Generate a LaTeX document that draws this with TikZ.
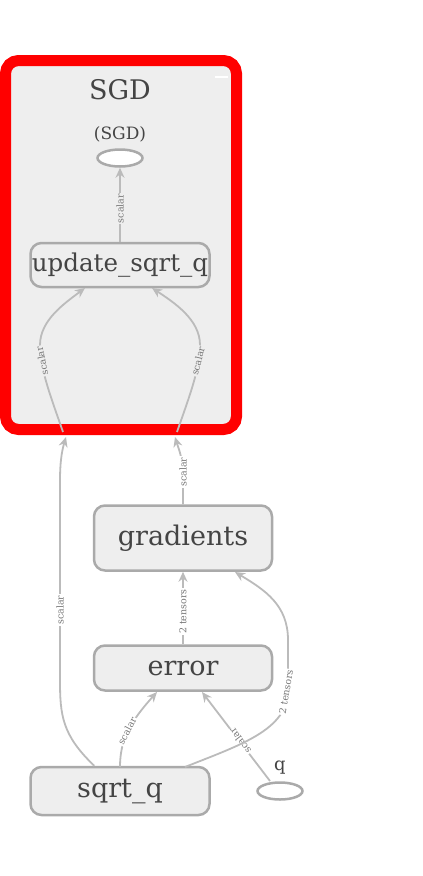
\documentclass[tikz,border=0pt]{standalone}
\usepackage{fontspec}
\setmainfont{DejaVu Serif}
\usetikzlibrary{arrows.meta,shapes.geometric}
\definecolor{boxfill}{HTML}{EEEEEE}
\definecolor{boxdraw}{HTML}{AAAAAA}
\definecolor{edgec}{HTML}{BBBBBB}
\definecolor{txt}{HTML}{444444}
\definecolor{lbl}{HTML}{777777}
\definecolor{clred}{HTML}{FF0000}
\tikzset{
  opbox/.style={draw=boxdraw, fill=boxfill, line width=2.5pt, rounded corners=11pt, text=txt, inner sep=0pt},
  leaf/.style={ellipse, draw=boxdraw, fill=white, line width=2.5pt, minimum width=45pt, minimum height=17pt, inner sep=0pt},
  flow/.style={draw=edgec, line width=1.8pt},
  flowarr/.style={flow, -{Stealth[length=10pt,width=9pt]}},
  elabel/.style={font=\fontsize{9.5}{9.5}\selectfont, text=lbl, inner sep=1pt},
  inlabel/.style={elabel, fill=boxfill},
  outlabel/.style={elabel, fill=white},
  bigtext/.style={font=\fontsize{27}{27}\selectfont},
}
\begin{document}
\begin{tikzpicture}[x=1pt,y=-1pt]
\useasboundingbox (0,0) rectangle (423,876);
% cluster
\node[draw=clred, fill=boxfill, line width=11pt, rounded corners=13pt, minimum width=231pt, minimum height=369pt, inner sep=0pt] (sgd) at (121,245) {};
\draw[white, line width=2.5pt] (215,77) -- (228,77);
\node[text=txt, bigtext] (sgdtitle) at (120,90) {SGD};
\node[text=txt, font=\fontsize{17}{17}\selectfont] (sgdlab) at (120,134) {(SGD)};
\node[leaf] (sgdout) at (120,158) {};
\node[opbox, minimum width=179pt, minimum height=44pt, font=\fontsize{24.5}{24.5}\selectfont] (upd) at (120,265) {update\_sqrt\_q};
% outside nodes
\node[opbox, minimum width=178pt, minimum height=65pt, bigtext] (grad) at (183,538) {gradients};
\node[opbox, minimum width=178pt, minimum height=45pt, bigtext] (err) at (183,668) {error};
\node[opbox, minimum width=179pt, minimum height=48pt, bigtext] (sq) at (120,791) {sqrt\_q};
\node[leaf] (q) at (280,791) {};
\node[text=txt, font=\fontsize{18}{18}\selectfont] (qlab) at (280,768) {q};
% boundary coordinates
\coordinate (lin) at (66,437);
\coordinate (lstart) at (63,432);
\coordinate (rin) at (175,437);
\coordinate (rstart) at (177,432);
% edges
\draw[flowarr] (upd.north) -- (sgdout.south) node[inlabel, pos=0.45, rotate=90] {scalar};
\draw[flowarr] (sq.north west) ++(65,0) .. controls (62,735) and (60,715) .. (60,680) -- (60,480) .. controls (60,458) and (63,447) .. (lin);
\node[outlabel, rotate=90] (l1) at (60,610) {scalar};
\draw[flowarr] (lstart) .. controls (52,400) and (40,370) .. (40,345) .. controls (40,320) and (65,303) .. (85,288);
\node[inlabel, rotate=102] (l2) at (42,361) {scalar};
\draw[flowarr] (grad.north) -- (183,475) .. controls (183,458) and (178,447) .. (rin);
\node[outlabel, rotate=90] (l3) at (183,472) {scalar};
\draw[flowarr] (rstart) .. controls (188,400) and (200,370) .. (200,345) .. controls (200,320) and (175,303) .. (152,288);
\node[inlabel, rotate=76] (l4) at (198,361) {scalar};
\draw[flowarr] (err.north) -- (grad.south) node[outlabel, pos=0.45, rotate=90] {2 tensors};
\draw[flowarr] (120,767) .. controls (120,740) and (130,722) .. (157,692);
\node[outlabel, rotate=62] (l5) at (127,731) {scalar};
\draw[flowarr] (270,781) -- (202,692);
\node[outlabel, rotate=127] (l6) at (240,741) {scalar};
\draw[flowarr] (185,767) .. controls (240,745) and (288,730) .. (288,690) -- (288,640) .. controls (288,605) and (265,590) .. (235,572);
\node[outlabel, rotate=80] (l7) at (286,692) {2 tensors};
\end{tikzpicture}
\end{document}
